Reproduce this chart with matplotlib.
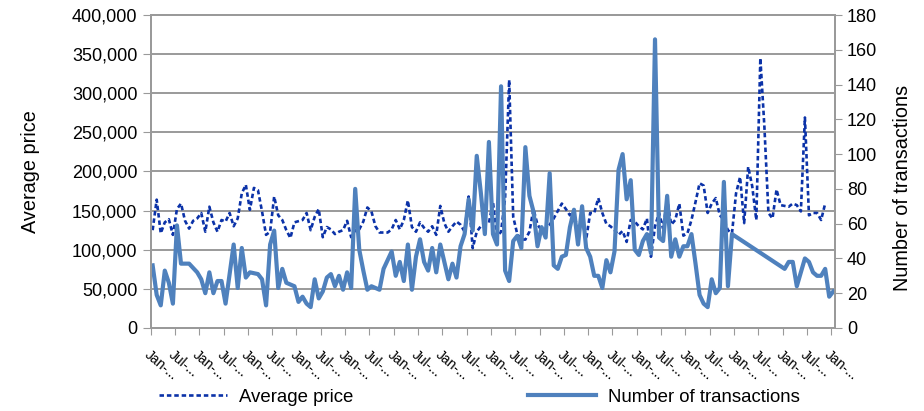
import numpy as np
import matplotlib.pyplot as plt

plt.rcParams['font.family'] = ['Liberation Sans', 'DejaVu Sans']

# monthly values, index = months since the first Jan; None = month not read
avg_price_k = [
    125, 164, 121, 135, 139, 119, 152, 159, 137, 127,
    137, 140, 147, 123, 155, 135, 123, 138, 136, 147,
    130, 140, 172, 183, 151, 179, 176, 149, 119, 123,
    168, 144, 138, 125, 115, 135, None, 138, 147, 125,
    142, 152, 116, 129, 126, 120, 123, 125, 137, 116,
    125, 126, 136, 154, 149, 130, 122, None, 122, 126,
    138, 126, 138, 163, 129, 123, 135, 128, 123, 130,
    119, 156, 134, 123, 130, 136, 132, 123, 168, 102,
    123, 130, 134, 134, 161, 117, 123, 166, 317, 142,
    120, 113, 113, 123, 152, 132, 125, 127, 132, 140,
    None, 159, 152, 144, 149, 121, 138, 113, 147, 147,
    166, 147, 133, 130, 125, 119, 124, 110, 138, 136,
    130, 126, 140, 91, 130, 147, 127, 164, 132, 138,
    159, 118, 121, 138, 161, 185, 182, 147, 159, 166,
    144, 138, 125, 121, 172, 193, 134, 206, 181, 138,
    345, 257, 147, 140, 177, 157, None, 155, 159, 157,
    149, 269, 144, 147, 147, 138, 159,
]

transactions = [
    36, 19, 13, 33, 26, 14, 59, 37, None, 37,
    None, 32, 28, 20, 32, 20, 27, 27, 14, None,
    48, 23, 46, 29, 32, None, 31, 28, 13, 48,
    56, 23, 34, 26, None, 24, 15, 18, 14, 12,
    28, 17, 21, 29, 31, 24, 30, 22, 32, 23,
    80, 45, 33, 22, 24, None, 22, 34, None, 44,
    30, 38, 27, 48, 22, 41, 51, 38, 33, 46,
    32, 48, 38, 28, 37, 29, 47, 54, 74, 56,
    99, 78, 54, 107, 54, 48, 139, 33, 27, 50,
    53, 46, 104, 76, 67, 47, 58, 52, 89, 36,
    34, 41, 42, 58, 68, 48, 70, 46, 41, 30,
    30, 23, 39, 32, 44, 91, 100, 74, 85, 45,
    42, 50, 54, 43, 166, 52, 50, 76, 41, 51,
    41, 47, 47, 54, 37, 19, 14, 12, 28, 20,
    23, 84, 24, 54, None, None, None, None, None, None,
    None, None, None, None, None, None, 34, 38, 38, 24,
    None, 40, 38, 32, 30, 30, 34, 18, 21,
]

tick_months = list(range(0, 169, 6))
tick_labels = ['Jan-...' if i % 2 == 0 else 'Jul-...' for i in range(len(tick_months))]


def clean(vals):
    m = np.array([i for i, v in enumerate(vals) if v is not None]) + 0.5
    v = np.array([v for v in vals if v is not None], dtype=float)
    return m, v


grey = '#9A9A9A'
dark_blue = '#0B32A8'
light_blue = '#4F81BD'

fig = plt.figure(figsize=(9.24, 4.11), dpi=100)
ax = fig.add_axes([0.163, 0.202, 0.741, 0.7615])
ax2 = ax.twinx()

pm, pv = clean(avg_price_k)
tm, tv = clean(transactions)
l1, = ax.plot(pm, pv * 1000, color=dark_blue, lw=1.9, linestyle=(0, (1.7, 1.1)))
l2, = ax2.plot(tm, tv, color=light_blue, lw=3)

ax.set_xlim(0, 169)
ax.set_ylim(0, 400000)
ax2.set_ylim(0, 180)
ax.set_yticks(range(0, 400001, 50000))
ax.set_yticklabels([f'{v:,}' for v in range(0, 400001, 50000)])
ax2.set_yticks(range(0, 181, 20))
ax.set_xticks(tick_months)
ax.set_xticklabels(tick_labels, rotation=-40, ha='left', va='top',
                   rotation_mode='anchor', fontsize=10)

ax.grid(axis='y', color=grey, lw=1.4)
ax.set_axisbelow(True)
for a in (ax, ax2):
    for s in a.spines.values():
        s.set_color(grey)
        s.set_linewidth(1.4)
ax.tick_params(axis='x', length=5, color=grey, pad=9)
ax.tick_params(axis='y', length=6, color=grey, labelsize=13)
ax2.tick_params(axis='y', length=5, color=grey, labelsize=13)

ax.set_ylabel('Average price', fontsize=14.3, labelpad=23)
ax2.set_ylabel('Number of transactions', fontsize=14.3)
ax2.yaxis.set_label_coords(1.085, 0.449)

fig.legend([l1, l2], ['Average price', 'Number of transactions'],
           loc='center left', bbox_to_anchor=(0.172, 0.034), ncol=2,
           frameon=False, fontsize=13.4, handlelength=3.65, borderpad=0,
           borderaxespad=0, columnspacing=9.4, handletextpad=0.65)

fig.savefig('out.png', dpi=100)
